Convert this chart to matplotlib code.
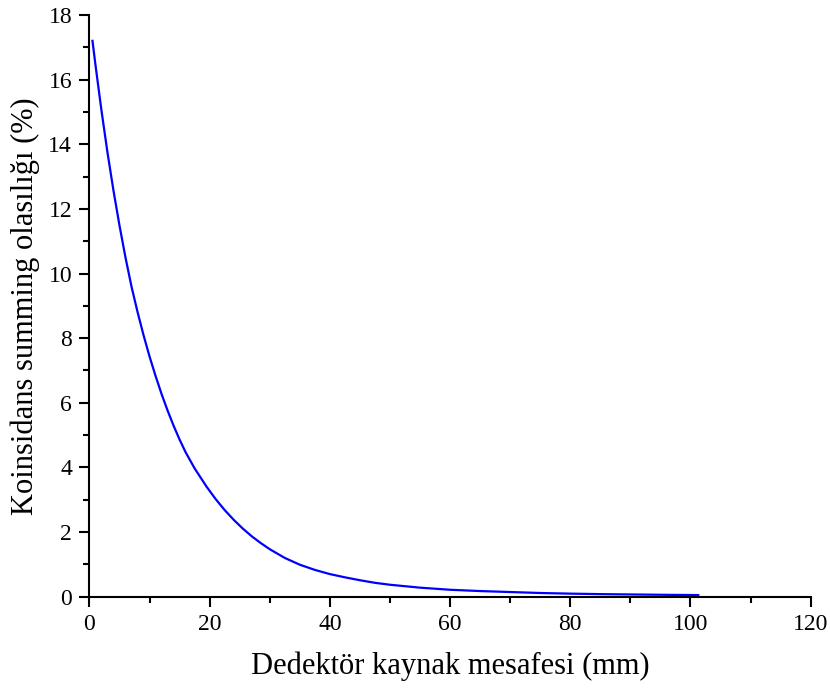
import matplotlib
matplotlib.use("Agg")
import matplotlib.pyplot as plt
from matplotlib.ticker import MultipleLocator

# Dedektör-kaynak mesafesi (mm) ve koinsidans summing olasılığı (%)
mesafe = [0.5, 1, 2, 3, 4, 5, 6, 7, 8, 9, 10, 11, 12, 13, 14, 15, 16, 17.5,
          19.5, 21, 22.5, 24, 25.5, 27, 28.5, 30, 32.5, 35, 37.5, 40, 42.5,
          45, 47.5, 50, 55, 60, 65, 70, 75, 80, 85, 90, 95, 101.3]
olasilik = [17.2, 16.45, 15.04, 13.74, 12.56, 11.48, 10.49, 9.59, 8.81, 8.09,
            7.43, 6.83, 6.27, 5.76, 5.29, 4.86, 4.47, 3.97, 3.40, 3.02, 2.68,
            2.38, 2.11, 1.87, 1.66, 1.47, 1.20, 0.99, 0.83, 0.70, 0.60, 0.51,
            0.43, 0.37, 0.28, 0.215, 0.175, 0.145, 0.115, 0.095, 0.08, 0.07,
            0.06, 0.05]

plt.rcParams['font.family'] = ['Liberation Serif', 'DejaVu Serif']

fig = plt.figure(figsize=(8.3, 6.92), dpi=100)
ax = fig.add_axes([0.1078, 0.1377, 0.8689, 0.8406])

ax.plot(mesafe, olasilik, color='#0000ff', linewidth=1.6)

ax.set_xlim(0, 120)
ax.set_ylim(0, 18)
ax.xaxis.set_major_locator(MultipleLocator(20))
ax.xaxis.set_minor_locator(MultipleLocator(10))
ax.yaxis.set_major_locator(MultipleLocator(2))
ax.yaxis.set_minor_locator(MultipleLocator(1))

for s in ['top', 'right']:
    ax.spines[s].set_visible(False)
for s in ['left', 'bottom']:
    ax.spines[s].set_linewidth(1.5)

ax.tick_params(which='major', direction='out', length=7.5, width=1.5,
               labelsize=17, pad=5)
ax.tick_params(which='minor', direction='out', length=4, width=1.5)

ax.set_xlabel('Dedektör kaynak mesafesi (mm)', fontsize=22, labelpad=12)
ax.set_ylabel('Koinsidans summing olasılığı (%)', fontsize=22, labelpad=6)

fig.savefig('out.png', dpi=100)
